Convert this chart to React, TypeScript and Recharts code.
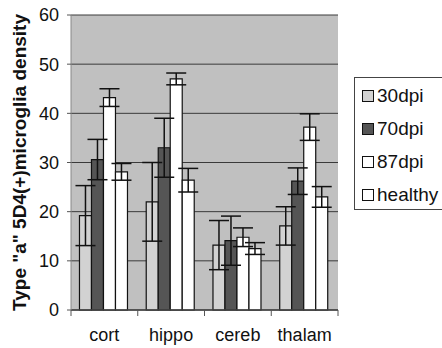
import React from "react";
import { BarChart, Bar, XAxis, YAxis, CartesianGrid, ErrorBar } from "recharts";

const categories = ["cort", "hippo", "cereb", "thalam"];
const dpi30 = [19.2, 22.0, 13.2, 17.1];
const dpi30Err = [6.1, 8.0, 5.0, 3.9];
const dpi70 = [30.6, 33.0, 14.1, 26.2];
const dpi70Err = [4.1, 6.0, 5.0, 2.7];
const dpi87 = [43.2, 47.0, 14.8, 37.2];
const dpi87Err = [1.8, 1.2, 1.9, 2.7];
const healthy = [28.1, 26.4, 12.5, 23.0];
const healthyErr = [1.7, 2.4, 1.2, 2.1];
const yTicks = [0, 10, 20, 30, 40, 50, 60];

const series = [
  { key: "d30", name: "30dpi", values: dpi30, err: dpi30Err, fill: "#d2d2d2" },
  { key: "d70", name: "70dpi", values: dpi70, err: dpi70Err, fill: "#555555" },
  { key: "d87", name: "87dpi", values: dpi87, err: dpi87Err, fill: "#ffffff" },
  { key: "h", name: "healthy", values: healthy, err: healthyErr, fill: "#ffffff" },
];

const data = categories.map((c, i) => {
  const row: any = { name: c };
  series.forEach((s) => {
    row[s.key] = s.values[i];
    row[s.key + "Err"] = s.err[i];
  });
  return row;
});

const FONT = "Arial, 'Liberation Sans', Helvetica, sans-serif";

const XTick = (props: any) => {
  const { x, y, payload, index } = props;
  const off = payload && payload.offset ? payload.offset : 0;
  return (
    <g>
      <line x1={x - off} x2={x - off} y1={y - 8} y2={y - 2} stroke="#555" strokeWidth={1} />
      {index === categories.length - 1 && (
        <line x1={x + off} x2={x + off} y1={y - 8} y2={y - 2} stroke="#555" strokeWidth={1} />
      )}
      <text x={x} y={y + 10} dy="0.71em" textAnchor="middle" fontSize={18} fontFamily={FONT} fill="#111">
        {payload.value}
      </text>
    </g>
  );
};

export default function App() {
  return (
    <div style={{ position: "absolute", left: 0, top: 0, width: 442, height: 348, background: "#fff" }}>
      <BarChart
        width={442}
        height={348}
        data={data}
        margin={{ top: 15, right: 104, bottom: 8, left: 0 }}
        barCategoryGap="12.7%"
        barGap={0}
      >
        <CartesianGrid vertical={false} fill="#c0c0c0" stroke="#3a3a3a" strokeWidth={1} fillOpacity={1} />
        <XAxis
          dataKey="name"
          height={30}
          tickLine={false}
          axisLine={{ stroke: "#444", strokeWidth: 1.5 }}
          tick={<XTick />}
          interval={0}
        />
        <YAxis
          yAxisId={0}
          width={71}
          domain={[0, 60]}
          ticks={yTicks}
          tickSize={4}
          tickMargin={8}
          axisLine={{ stroke: "#888" }}
          tickLine={{ stroke: "#555" }}
          tick={{ fontSize: 18, fontFamily: FONT, fill: "#111" }}
          label={{
            value: 'Type "a" 5D4(+)microglia density',
            angle: -90,
            position: "insideLeft",
            offset: 19,
            style: { textAnchor: "middle", fontSize: 19, fontWeight: "bold", fontFamily: FONT, fill: "#111" },
          }}
        />
        <YAxis
          yAxisId="r"
          orientation="right"
          width={0}
          domain={[0, 60]}
          tick={false}
          tickLine={false}
          axisLine={{ stroke: "#333", strokeWidth: 1.5 }}
        />
        {series.map((s) => (
          <Bar
            key={s.key}
            dataKey={s.key}
            name={s.name}
            fill={s.fill}
            stroke="#111"
            strokeWidth={1.2}
            isAnimationActive={false}
          >
            <ErrorBar dataKey={s.key + "Err"} width={10} stroke="#111" strokeWidth={1.5} />
          </Bar>
        ))}
      </BarChart>
      <div
        style={{
          position: "absolute",
          left: 354,
          top: 77,
          width: 92,
          height: 133,
          border: "1px solid #444",
          background: "#fff",
          boxSizing: "border-box",
          fontFamily: FONT,
          fontSize: 19,
          color: "#111",
        }}
      >
        {series.map((s, i) => (
          <div
            key={s.key}
            style={{ position: "absolute", left: 7, top: 6 + i * 33, height: 24, display: "flex", alignItems: "center" }}
          >
            <span
              style={{
                display: "inline-block",
                width: 10,
                height: 10,
                background: s.fill,
                border: "1px solid #111",
                marginRight: 3,
              }}
            />
            <span>{s.name}</span>
          </div>
        ))}
      </div>
    </div>
  );
}
